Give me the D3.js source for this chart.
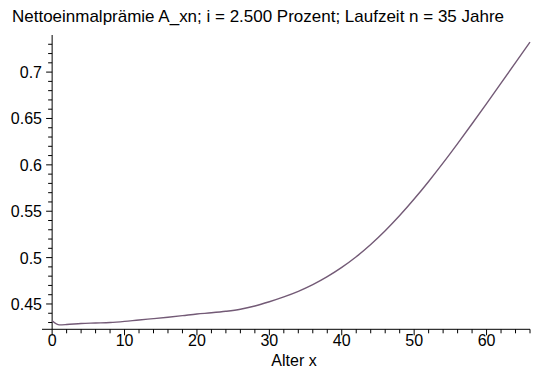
<!DOCTYPE html>
<html>
<head>
<meta charset="utf-8">
<script src="https://cdn.jsdelivr.net/npm/d3@7"></script>
<style>
  body { margin: 0; background: #fff; }
  text { font-family: "Liberation Sans", Arial, sans-serif; fill: #000; }
</style>
</head>
<body>
<div id="container"></div>
<script>
/* DATA */
const titleText = "Nettoeinmalprämie A_xn; i = 2.500 Prozent; Laufzeit n = 35 Jahre"
const xLabel = "Alter x"

// ages and net single premium
const ages = [0, 1, 2, 4, 6, 8, 10, 12, 14, 16, 18, 20, 22, 24, 26, 28, 30, 32, 34,
  36, 38, 40, 42, 44, 46, 48, 50, 52, 54, 56, 58, 60, 62, 64, 66]
const premium = [0.4320, 0.4275, 0.4278, 0.4290, 0.4295, 0.4300, 0.4312, 0.4328, 0.4342,
  0.4357, 0.4374, 0.4392, 0.4405, 0.4421, 0.4443, 0.4478, 0.4524, 0.4576, 0.4636,
  0.4708, 0.4794, 0.4894, 0.5009, 0.5141, 0.5289, 0.5453, 0.5631, 0.5821, 0.6021,
  0.6229, 0.6443, 0.6661, 0.6881, 0.7102, 0.7324]

const xMajor = [0, 10, 20, 30, 40, 50, 60]
const yMajor = [0.45, 0.5, 0.55, 0.6, 0.65, 0.7]
const yMajorLabels = ["0.45", "0.5", "0.55", "0.6", "0.65", "0.7"]

/* CONSTANTS */
const width = 538, height = 381

const data = ages.map((a, i) => ({ x: a, y: premium[i] }))

// SCALES
const xScale = d3.scaleLinear().domain([-1.4, 66]).range([42, 530])
const yScale = d3.scaleLinear().domain([0.4227, 0.740]).range([329.3, 35])

const svg = d3.select("#container").append("svg")
  .attr("width", width)
  .attr("height", height)

// title
svg.append("text")
  .attr("x", 12).attr("y", 22)
  .attr("font-size", 16.6)
  .attr("textLength", 492)
  .attr("lengthAdjust", "spacingAndGlyphs")
  .text(titleText)

// AXES
const xAxisY = yScale(yScale.domain()[0])
const yAxisX = xScale(0)

svg.append("line")
  .attr("x1", xScale.range()[0]).attr("x2", xScale.range()[1])
  .attr("y1", xAxisY).attr("y2", xAxisY)
  .attr("stroke", "#000")

svg.append("line")
  .attr("x1", yAxisX).attr("x2", yAxisX)
  .attr("y1", yScale.range()[1]).attr("y2", xAxisY)
  .attr("stroke", "#000")

// x ticks every 2, major every 10
const xTicks = d3.range(0, 67, 2)
svg.selectAll(".xtick").data(xTicks).join("line")
  .attr("class", "xtick")
  .attr("x1", d => xScale(d)).attr("x2", d => xScale(d))
  .attr("y1", xAxisY)
  .attr("y2", d => xAxisY + (d % 10 === 0 ? 6 : 4))
  .attr("stroke", "#000")

svg.selectAll(".xlab").data(xMajor).join("text")
  .attr("class", "xlab")
  .attr("x", d => xScale(d)).attr("y", 346)
  .attr("text-anchor", "middle")
  .attr("font-size", 16)
  .text(d => d)

// y ticks every 0.01
const yTicks = d3.range(43, 74).map(d => d / 100)
svg.selectAll(".ytick").data(yTicks).join("line")
  .attr("class", "ytick")
  .attr("x1", d => yAxisX - (Math.round(d * 100) % 5 === 0 ? 6 : 4))
  .attr("x2", yAxisX)
  .attr("y1", d => yScale(d)).attr("y2", d => yScale(d))
  .attr("stroke", "#000")

svg.selectAll(".ylab").data(yMajor).join("text")
  .attr("class", "ylab")
  .attr("x", 42).attr("y", d => yScale(d) + 6)
  .attr("text-anchor", "end")
  .attr("font-size", 16)
  .text((d, i) => yMajorLabels[i])

svg.append("text")
  .attr("x", 294).attr("y", 366)
  .attr("text-anchor", "middle")
  .attr("font-size", 16)
  .text(xLabel)

// LINE
const line = d3.line()
  .x(d => xScale(d.x))
  .y(d => yScale(d.y))
  .curve(d3.curveMonotoneX)

svg.append("path")
  .datum(data)
  .attr("d", line)
  .attr("fill", "none")
  .attr("stroke", "#735a76")
  .attr("stroke-width", 1.4)
</script>
</body>
</html>
